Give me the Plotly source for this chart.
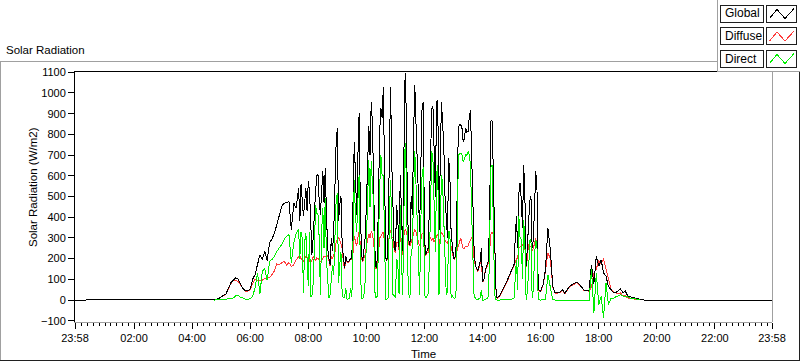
import plotly.graph_objects as go

# ---------------- data (W/m2) ----------------
# main samples every 5 minutes starting 04:45
start_min = 285          # 04:45
step_min = 5
day_first = -2           # 23:58 previous day
day_last = 1438          # 23:58

global_vals = [
    0, 3, 7, 17, 23, 30, 59, 83, 96, 107, 102, 80, 55, 44, 44, 54, 100, 123, 171, 219,
    195, 235, 190, 276, 295, 324, 364, 412, 452, 468, 470, 476, 340, 468, 444, 541, 560, 404, 541, 573,
    404, 300, 524, 605, 412, 621, 637, 251, 171, 235, 524, 830, 460, 267, 155, 187, 195, 203, 765, 412,
    902, 219, 235, 460, 838, 958, 573, 155, 492, 926, 1031, 203, 331, 1031, 412, 235, 380, 605, 235, 1095,
    412, 267, 412, 1039, 653, 331, 926, 299, 235, 428, 926, 733, 958, 331, 958, 733, 364, 685, 331, 203,
    235, 830, 846, 765, 830, 814, 918, 460, 171, 139, 187, 90, 139, 171, 492, 862, 299, 10, 20, 40,
    65, 90, 120, 150, 171, 404, 517, 485, 653, 163, 372, 501, 292, 621, 51, 43, 75, 147, 348, 244,
    67, 35, 35, 38, 51, 32, 51, 67, 75, 80, 86, 75, 59, 48, 48, 46, 170, 80, 211, 163,
    195, 131, 115, 67, 51, 38, 35, 43, 54, 35, 43, 19, 16, 11, 8, 6, 2, 1, 0, 0,
    0,
]

diffuse_vals = [
    0, 3, 6, 15, 21, 28, 55, 80, 92, 95, 88, 72, 52, 42, 42, 50, 80, 99, 96, 92,
    96, 103, 105, 109, 123, 140, 174, 170, 180, 187, 170, 180, 163, 170, 195, 211, 200, 187, 211, 203,
    180, 210, 190, 200, 185, 200, 210, 215, 165, 200, 230, 290, 291, 250, 150, 185, 190, 195, 307, 260,
    330, 200, 200, 260, 320, 330, 280, 150, 220, 310, 330, 200, 250, 340, 300, 230, 280, 300, 220, 340,
    300, 260, 290, 340, 300, 260, 320, 260, 230, 290, 290, 280, 310, 270, 330, 300, 280, 300, 260, 200,
    230, 260, 300, 250, 260, 260, 290, 300, 168, 136, 180, 88, 135, 165, 250, 330, 295, 8, 17, 36,
    60, 85, 115, 140, 165, 200, 250, 260, 280, 160, 270, 260, 250, 300, 48, 40, 72, 140, 228, 200,
    64, 32, 32, 35, 48, 29, 48, 64, 71, 76, 84, 73, 56, 45, 45, 43, 60, 130, 150, 190,
    175, 200, 150, 100, 55, 40, 35, 30, 35, 20, 20, 10, 8, 5, 3, 2, 1,
]

direct_vals = [
    0, 0, 2, 2, 3, 4, 6, 8, 10, 20, 22, 14, 8, 5, 4, 6, 18, 59, 132, 30,
    138, 154, 95, 187, 196, 211, 235, 252, 268, 292, 308, 316, 180, 276, 324, 340, 330, 35, 323, 67,
    17, 80, 460, 412, 26, 444, 492, 107, 26, 171, 331, 516, 171, 26, 10, 5, 10, 15, 581, 331,
    605, 10, 26, 331, 677, 669, 460, 10, 331, 701, 605, 2, 10, 580, 26, 10, 171, 460, 26, 757,
    171, 10, 251, 720, 412, 26, 600, 26, 18, 171, 720, 460, 605, 26, 605, 412, 26, 331, 10, 10,
    26, 701, 709, 669, 701, 717, 653, 171, 10, 2, 10, 0, 5, 10, 331, 653, 26, 0, 0, 0,
    2, 2, 5, 5, 10, 195, 404, 292, 388, 2, 131, 292, 51, 292, 2, 0, 0, 3, 123, 67,
    2, 0, -2, -2, -2, -3, -2, -2, -2, -2, -3, -3, -3, -2, -3, -3, 150, -62, 131, -22,
    18, -86, 83, -22, 6, 6, 16, 19, 27, 19, 16, 16, 10, 8, 6, 4, 2,
]

# extra in-between samples (every 5 min) during the broken-cloud periods
extra1_start = 462.5     # 07:42:30
global_extra1 = [
    380, 480, 470, 430, 530, 220, 430, 600, 480, 520, 470, 420, 200, 300, 330, 760, 380, 500, 190, 210,
    185, 200, 420, 600, 700, 450, 190, 300, 650, 700, 850, 250, 200, 820, 880, 500, 190, 700, 650, 250,
    460, 250, 450, 700, 900, 290, 500, 800, 850, 450, 650, 958, 220, 250, 700, 934, 500, 966, 600, 860,
    500, 300, 600, 250, 200, 500, 846, 830, 780, 810, 880, 700, 250, 150, 160, 250, 95, 160, 200, 870,
    500, 60,
]
diffuse_extra1 = [
    215, 195, 200, 205, 190, 190, 200, 205, 195, 190, 210, 215, 190, 210, 220, 280, 300, 270, 185, 190,
    180, 195, 230, 280, 300, 270, 185, 220, 290, 300, 320, 200, 180, 300, 320, 280, 190, 320, 300, 240,
    280, 240, 270, 310, 330, 270, 280, 320, 330, 280, 300, 320, 215, 230, 300, 300, 290, 320, 300, 320,
    290, 270, 300, 230, 195, 240, 280, 270, 250, 260, 280, 300, 200, 148, 155, 200, 93, 155, 180, 320,
    310, 55,
]
direct_extra1 = [
    200, 300, 280, 150, 330, 20, 240, 420, 300, 330, 250, 200, 10, 100, 120, 480, 80, 230, 10, 60,
    5, 60, 250, 400, 480, 150, 5, 90, 430, 450, 560, 40, 20, 540, 600, 250, 5, 420, 350, 20,
    200, 30, 200, 420, 600, 30, 240, 520, 560, 200, 380, 640, 10, 30, 450, 680, 230, 650, 320, 560,
    220, 40, 330, 20, 5, 280, 705, 700, 680, 700, 700, 420, 20, 2, 5, 50, 0, 5, 20, 645,
    200, 2,
]

extra2_start = 907.5     # 15:07:30
global_extra2 = [300, 250, 565, 350, 500, 250, 480, 250, 450, 533]
diffuse_extra2 = [180, 200, 255, 265, 250, 200, 260, 240, 280, 250]
direct_extra2 = [120, 50, 300, 100, 270, 40, 290, 10, 220, 250]

series_names = ["Global", "Diffuse", "Direct"]
series_colors = ["#000000", "#ff3b3b", "#00ee00"]

tick_minutes = [-2, 120, 240, 360, 480, 600, 720, 840, 960, 1080, 1200, 1320, 1438]
tick_labels = ["23:58", "02:00", "04:00", "06:00", "08:00", "10:00", "12:00",
               "14:00", "16:00", "18:00", "20:00", "22:00", "23:58"]
y_ticks = list(range(-100, 1101, 100))


# ---------------- helpers ----------------
def merged(main, extra1, extra2):
    pts = [(start_min + step_min * i, v) for i, v in enumerate(main)]
    pts += [(extra1_start + step_min * i, v) for i, v in enumerate(extra1)]
    pts += [(extra2_start + step_min * i, v) for i, v in enumerate(extra2)]
    pts.sort()
    return [p[0] for p in pts], [p[1] for p in pts]


gx, gy = merged(global_vals, global_extra1, global_extra2)
gx = [day_first] + gx + [day_last]
gy = [0] + gy + [0]
dx, dy = merged(diffuse_vals, diffuse_extra1, diffuse_extra2)
bx, by = merged(direct_vals, direct_extra1, direct_extra2)

FONT = "Liberation Sans, Arial, sans-serif"

fig = go.Figure()
fig.add_trace(go.Scatter(x=dx, y=dy, mode="lines", name=series_names[1],
                         line=dict(color=series_colors[1], width=1)))
fig.add_trace(go.Scatter(x=gx, y=gy, mode="lines", name=series_names[0],
                         line=dict(color=series_colors[0], width=1)))
fig.add_trace(go.Scatter(x=bx, y=by, mode="lines", name=series_names[2],
                         line=dict(color=series_colors[2], width=1)))

W, H = 800, 361
L, R, T, B = 75, 28, 71, 39
PW, PH = W - L - R, H - T - B


def px(x):
    return (x - L) / PW


def py(y):
    return (H - B - y) / PH


shapes = []


def hline(x0, x1, y, color):
    shapes.append(dict(type="line", xref="paper", yref="paper", x0=px(x0), x1=px(x1),
                       y0=py(y), y1=py(y), line=dict(color=color, width=1)))


def vline(x, y0, y1, color):
    shapes.append(dict(type="line", xref="paper", yref="paper", x0=px(x), x1=px(x),
                       y0=py(y0), y1=py(y1), line=dict(color=color, width=1)))


# outer panel frame
hline(0, 717, 61.5, "#a0a0a0")
vline(0.5, 61.5, 360.5, "#a0a0a0")
hline(0, 800, 360.5, "#202020")
vline(799.5, 72, 360.5, "#202020")
# plot frame (top dark, right light)
hline(75, 717, 71, "#000000")
vline(772, 72, 322, "#a0a0a0")

# legend panel
shapes.append(dict(type="rect", xref="paper", yref="paper", x0=px(717), x1=px(800),
                   y0=py(0), y1=py(71.5), fillcolor="white", line=dict(width=0)))
vline(717.5, 0, 71.5, "#a0a0a0")
hline(717.5, 800, 71.5, "#a0a0a0")

row_tops = [5, 27.5, 50]
annotations = []
for name, color, top in zip(series_names, series_colors, row_tops):
    shapes.append(dict(type="rect", xref="paper", yref="paper", x0=px(720.5), x1=px(763.5),
                       y0=py(top), y1=py(top + 17), fillcolor="white",
                       line=dict(color="#1e1e1e", width=1)))
    shapes.append(dict(type="rect", xref="paper", yref="paper", x0=px(766.5), x1=px(796.5),
                       y0=py(top), y1=py(top + 17), fillcolor="white",
                       line=dict(color="#1e1e1e", width=1)))
    pts = [(769.5, top + 13.5), (777, top + 4.5), (785, top + 13.5), (794, top + 3.5)]
    path = "M " + " L ".join(f"{px(a):.5f},{py(b):.5f}" for a, b in pts)
    shapes.append(dict(type="path", xref="paper", yref="paper", path=path,
                       line=dict(color=color, width=1)))
    annotations.append(dict(text=name, xref="paper", yref="paper", x=px(722.5), y=py(top + 8.5),
                            xanchor="left", yanchor="middle", showarrow=False,
                            font=dict(family=FONT, size=12, color="#000000")))

annotations += [
    dict(text="Solar Radiation", xref="paper", yref="paper", x=px(4), y=py(50),
         xanchor="left", yanchor="middle", showarrow=False,
         font=dict(family=FONT, size=11.5, color="#000000")),
    dict(text="Solar Radiation (W/m2)", xref="paper", yref="paper", x=px(33), y=py(187),
         xanchor="center", yanchor="middle", textangle=-90, showarrow=False,
         font=dict(family=FONT, size=11.5, color="#000000")),
    dict(text="Time", xref="paper", yref="paper", x=0.5, y=py(354),
         xanchor="center", yanchor="middle", showarrow=False,
         font=dict(family=FONT, size=11.5, color="#000000")),
]

fig.update_layout(
    width=W, height=H,
    margin=dict(l=L, r=R, t=T, b=B, pad=0),
    paper_bgcolor="white", plot_bgcolor="white",
    showlegend=False,
    font=dict(family=FONT, size=11, color="#000000"),
    shapes=shapes, annotations=annotations,
    xaxis=dict(range=[day_first, day_last], tickmode="array", tickvals=tick_minutes,
               ticktext=tick_labels, ticks="outside", ticklen=6, tickwidth=1,
               tickcolor="#000000", showline=True, linecolor="#a0a0a0", linewidth=1,
               showgrid=False, zeroline=False,
               tickfont=dict(family=FONT, size=11, color="#000000"),
               minor=dict(tickmode="linear", tick0=0, dtick=12, ticks="outside", ticklen=3,
                          tickwidth=1, tickcolor="#000000", showgrid=False)),
    yaxis=dict(range=[-106, 1106], tickmode="array", tickvals=y_ticks,
               ticks="outside", ticklen=6, tickwidth=1, tickcolor="#000000",
               showline=True, linecolor="#000000", linewidth=1,
               showgrid=False, zeroline=False,
               tickfont=dict(family=FONT, size=11, color="#000000")),
)

post = (
    "document.body.style.margin='0px';"
    "document.body.style.overflow='hidden';"
    "var st=document.createElement('style');"
    "st.innerHTML='svg.main-svg path{shape-rendering:crispEdges;}';"
    "document.head.appendChild(st);"
)
fig.write_html("out.html", config={"displayModeBar": False}, post_script=post)
